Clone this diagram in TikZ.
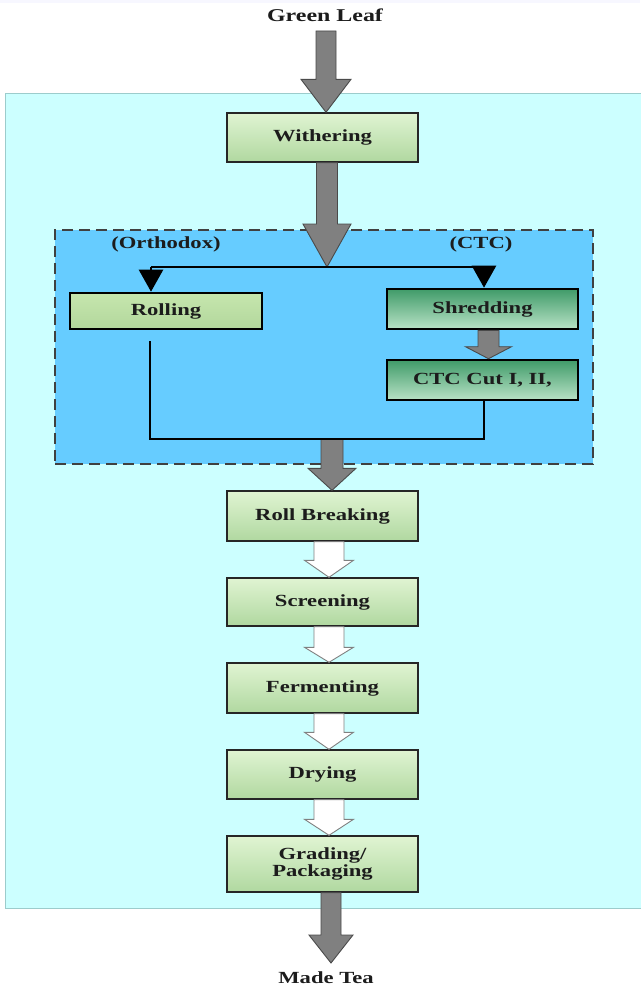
\documentclass[tikz,border=0pt]{standalone}
\usepackage{fontspec}
\usepackage{graphicx}
\setmainfont{Liberation Serif}
\usetikzlibrary{calc,arrows.meta,shadings}
\definecolor{bgcyan}{HTML}{CCFFFF}
\definecolor{bgcyanline}{HTML}{9CCCCC}
\definecolor{grpblue}{HTML}{66CCFF}
\definecolor{lgtop}{HTML}{E0F4D2}
\definecolor{lgbot}{HTML}{B0D8A0}
\definecolor{rolltop}{HTML}{C6E6AE}
\definecolor{rollmid}{HTML}{E8FFE2}
\definecolor{rollbot}{HTML}{B2D79C}
\definecolor{dgtop}{HTML}{409B69}
\definecolor{dgbot}{HTML}{B8E2C6}
\definecolor{arrgray}{HTML}{808080}
\definecolor{arredge}{HTML}{4A4A4A}
\definecolor{txt}{HTML}{1C1C1C}
\newcommand{\sx}[1]{\scalebox{1.33}[1]{#1}}
\newcommand{\blockarrow}[6]{%
  \path[#1] let \p1=(#2), \p2=(#3) in
    (\x2-#4,\y1) -- (\x2+#4,\y1) -- (\x2+#4,\y2+#6) -- (\x2+#5,\y2+#6) --
    (\x2,\y2) -- (\x2-#5,\y2+#6) -- (\x2-#4,\y2+#6) -- cycle;}
\tikzset{
  lbl/.style={font=\fontsize{17}{18}\selectfont\bfseries, text=txt, inner sep=0pt},
  mainbox/.style={draw=black!85, line width=1.4pt, minimum width=191pt, top color=lgtop, bottom color=lgbot,
    font=\fontsize{17}{18}\selectfont\bfseries, text=txt, align=center, inner sep=0pt},
  rollbox/.style={draw=black, line width=2.6pt, top color=rolltop, middle color=rollmid, bottom color=rollbot,
    font=\fontsize{17}{18}\selectfont\bfseries, text=txt, inner sep=0pt},
  darkbox/.style={draw=black, line width=2.6pt, top color=dgtop, bottom color=dgbot,
    font=\fontsize{17}{18}\selectfont\bfseries, text=txt, inner sep=0pt},
  grayarr/.style={fill=arrgray, draw=arredge, line width=0.9pt, line join=miter},
  whitearr/.style={fill=white, draw=arrgray, line width=0.9pt, line join=miter},
  joinline/.style={draw=black, line width=2.5pt},
  splitarr/.style={draw=black, line width=2.5pt, -{Triangle[width=24pt,length=22pt]}},
}
\begin{document}
\begin{tikzpicture}[x=1pt,y=-1pt]
\useasboundingbox (0,0) rectangle (640,990);
\fill[white] (0,0) rectangle (640,990);
\fill[black!4!blue!3!white] (0,0) rectangle (640,3);
% background panel
\node[draw=bgcyanline, fill=bgcyan, line width=1pt, minimum width=637pt, minimum height=815pt, inner sep=0pt] (panel) at (323.5,500.5) {};
% group
\node[draw=black!75, fill=grpblue, line width=1.5pt, dash pattern=on 11pt off 6pt, minimum width=538pt, minimum height=234pt, inner sep=0pt] (grp) at (324,347) {};

% texts
\node[lbl, font=\fontsize{18}{19}\selectfont\bfseries] (leaf) at (325,15) {\sx{Green Leaf}};
\node[lbl] (tea) at (326,978) {\sx{Made Tea}};
\node[lbl] (orth) at (166,244) {\sx{(Orthodox)}};
\node[lbl] (ctc) at (481,244) {\sx{(CTC)}};

% boxes
\node[mainbox, minimum height=49pt] (wither) at (322.5,137.5) {\sx{Withering}};
\node[rollbox, minimum width=192pt, minimum height=36pt] (roll) at (166,311) {\raisebox{-2pt}{\sx{Rolling}}};
\node[darkbox, minimum width=191pt, minimum height=40pt] (shred) at (482.5,309) {\sx{Shredding}};
\node[darkbox, minimum width=191pt, minimum height=40pt] (cut) at (482.5,380) {\sx{CTC Cut I, II,}};
\node[mainbox, minimum height=50pt] (rollb) at (322.5,516) {\sx{Roll Breaking}};
\node[mainbox, minimum height=48pt] (screen) at (322.5,602) {\sx{Screening}};
\node[mainbox, minimum height=50pt] (ferm) at (322.5,688) {\sx{Fermenting}};
\node[mainbox, minimum height=49pt] (dry) at (322.5,774.5) {\sx{Drying}};
\node[mainbox, minimum height=56pt] (grade) at (322.5,864) {\sx{Grading/}\\[-1pt]\sx{Packaging}};

% coordinates
\coordinate (a1s) at (326,31);
\coordinate (a1t) at ([xshift=3.5pt]wither.north);
\coordinate (split) at (327,267);
\coordinate (splitL) at (151,267);
\coordinate (splitR) at (484,267);
\coordinate (rolldown) at (150,341);
\coordinate (joinL) at (150,439);
\coordinate (joinR) at (484,439);
\coordinate (joinM) at (332,439);
\coordinate (a4t) at ([xshift=9.5pt]rollb.north);
\coordinate (shredt) at ([xshift=6pt]cut.north);

% gray block arrows
\blockarrow{grayarr}{a1s}{a1t}{10pt}{25pt}{33pt}
\blockarrow{grayarr}{wither.south}{split}{10.5pt}{24pt}{43pt}
\blockarrow{grayarr}{shred.south}{shredt}{10.5pt}{23pt}{12pt}
\blockarrow{grayarr}{joinM}{a4t}{11pt}{24pt}{22pt}
\coordinate (a9t) at (331,963);
\blockarrow{grayarr}{grade.south}{a9t}{10pt}{22pt}{28pt}

% white block arrows
\coordinate (w1t) at ([xshift=6.5pt]screen.north);
\coordinate (w2t) at ([xshift=6.5pt]ferm.north);
\coordinate (w3t) at ([xshift=6.5pt]dry.north);
\coordinate (w4t) at ([xshift=6.5pt]grade.north);
\blockarrow{whitearr}{rollb.south}{w1t}{15pt}{24.5pt}{17pt}
\blockarrow{whitearr}{screen.south}{w2t}{15pt}{24.5pt}{15pt}
\blockarrow{whitearr}{ferm.south}{w3t}{15pt}{24.5pt}{17pt}
\blockarrow{whitearr}{dry.south}{w4t}{15pt}{24.5pt}{16pt}

% split lines
\draw[joinline] (splitL) -- (splitR);
\draw[splitarr] (splitL) -- (splitL |- roll.north);
\draw[splitarr] (splitR) -- (splitR |- shred.north);
% join lines
\draw[joinline] (rolldown) -- (joinL) -- (joinR) -- (joinR |- cut.south);
\end{tikzpicture}
\end{document}
